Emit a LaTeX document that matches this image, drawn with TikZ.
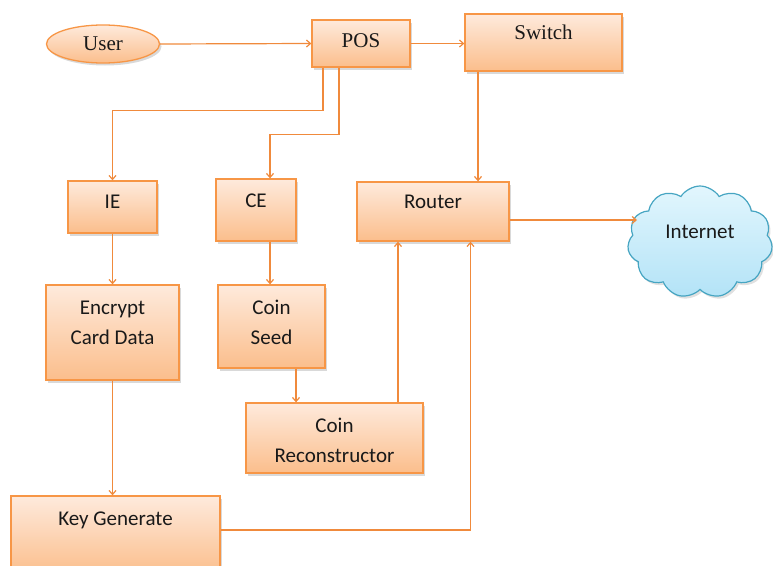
\documentclass[tikz,border=0pt]{standalone}
\usepackage{fontspec}
\setmainfont{Carlito}
\newfontfamily\serifc{Liberation Serif}
\usetikzlibrary{shapes.geometric,shapes.symbols,shadows,arrows.meta}
\definecolor{obord}{HTML}{F79646}
\definecolor{otop}{HTML}{FEEADC}
\definecolor{obot}{HTML}{FBBE8C}
\definecolor{cbord}{HTML}{46A5C2}
\definecolor{ctop}{HTML}{E2F6FD}
\definecolor{cbot}{HTML}{B3E3F7}
\definecolor{oline}{HTML}{F08A3C}
\begin{document}
\begin{tikzpicture}[x=1pt,y=1pt,
 box/.style={draw=obord, line width=1.3pt, top color=otop, bottom color=obot,
   drop shadow={shadow xshift=2pt, shadow yshift=-2.5pt, opacity=0.25, fill=black!60}, inner sep=0pt},
 txt/.style={font=\fontsize{21}{30}\selectfont, align=center, text=black!90},
 stxt/.style={font=\serifc\fontsize{21}{24}\selectfont, text=black!90},
 arr/.style={draw=oline, line width=1.2pt, -{Straight Barb[length=4pt,width=7pt]}}]
\useasboundingbox (0,0) rectangle (773,-565);

% nodes
\node[box, ellipse, minimum width=113, minimum height=38, label={[stxt]center:User}] (user) at (103,-44) {};
\node[box, minimum width=98, minimum height=47, label={[stxt, yshift=2.5]center:POS}] (pos) at (361,-43.5) {};
\node[box, minimum width=157, minimum height=57, label={[stxt, yshift=10]center:Switch}] (switch) at (543.5,-42.5) {};
\node[box, minimum width=89, minimum height=52, label={[txt, yshift=5]center:IE}] (ie) at (112.5,-207) {};
\node[box, minimum width=80, minimum height=62, label={[txt, yshift=9]center:CE}] (ce) at (256,-210) {};
\node[box, minimum width=152, minimum height=59, label={[txt, yshift=10]center:Router}] (router) at (433,-211.5) {};
\node[box, minimum width=133, minimum height=95, label={[txt, yshift=10]center:Encrypt\\Card Data}] (enc) at (112.5,-332.5) {};
\node[box, minimum width=107, minimum height=83, label={[txt, yshift=4]center:Coin\\Seed}] (seed) at (271.5,-326.5) {};
\node[box, minimum width=177, minimum height=70, label={[txt, yshift=-2]center:Coin\\Reconstructor}] (rec) at (334.5,-438) {};
\node[box, minimum width=209, minimum height=79, label={[txt, yshift=15]center:Key Generate}] (key) at (115.5,-535.5) {};
\node[cloud, cloud puffs=11, cloud puff arc=115, aspect=1.3, draw=cbord, line width=1.2pt,
   top color=ctop, bottom color=cbot, minimum width=145, minimum height=112, inner sep=0pt,
   drop shadow={shadow xshift=2pt, shadow yshift=-2.5pt, opacity=0.2, fill=black!60},
   label={[txt, yshift=10]center:Internet}] (net) at (700,-242) {};

% helper coordinates
\coordinate (ro) at ([yshift=-8.5]router.east);
\coordinate (netin) at ([xshift=9]net.west);

% connectors
\draw[arr] (user.east) -- (pos.west);
\draw[arr] (pos.east) -- (pos.east -| switch.west);
\draw[arr] ([xshift=-38]pos.south) -- ++(0,-43) -| (ie.north);
\draw[arr] ([xshift=-22]pos.south) -- ++(0,-67) -| ([xshift=14]ce.north);
\draw[arr] ([xshift=-65.5]switch.south) -- ([xshift=-65.5]switch.south |- router.north);
\draw[arr] (ro) -- (ro -| netin);
\draw[arr] (ie.south) -- (enc.north);
\draw[arr] ([xshift=14]ce.south) -- ([xshift=14]ce.south |- seed.north);
\draw[arr] ([xshift=24.5]seed.south) -- ([xshift=24.5]seed.south |- rec.north);
\draw[arr] ([xshift=63.5]rec.north) -- ([xshift=63.5]rec.north |- router.south);
\draw[arr] (enc.south) -- (enc.south |- key.north);
\draw[arr] ([yshift=5.5]key.east) -| ([xshift=37.5]router.south);
\end{tikzpicture}
\end{document}
